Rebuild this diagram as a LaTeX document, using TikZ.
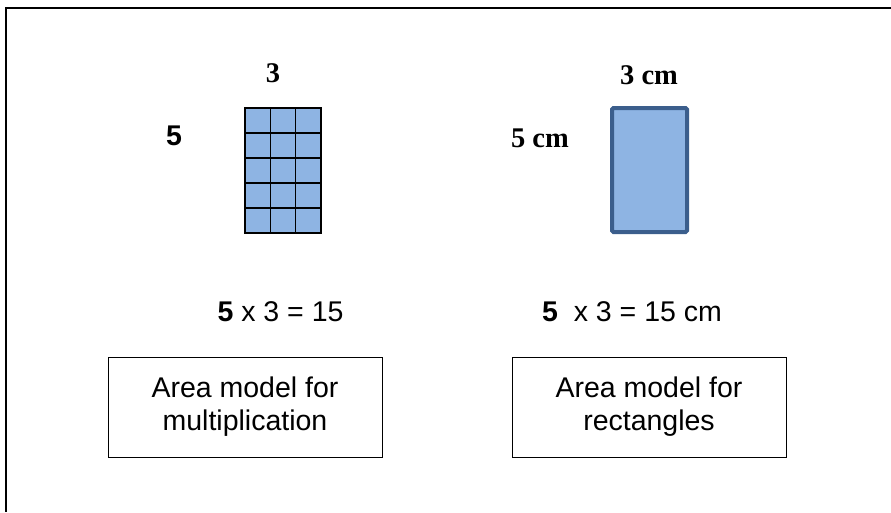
\documentclass[tikz,border=0pt]{standalone}
\usepackage{fontspec}
\setmainfont{Liberation Sans}
\newfontfamily\timesfont{Liberation Serif}
\usetikzlibrary{positioning}
\definecolor{cellBlue}{HTML}{8EB4E3}
\definecolor{rectEdge}{HTML}{3B5E8C}

\begin{document}
\begin{tikzpicture}[x=1pt,y=-1pt,
      lbl/.style={inner sep=0pt,font=\fontsize{28.5}{33}\selectfont},
      sidelbl/.style={inner sep=0pt,font=\fontsize{28.5}{33}\selectfont\timesfont\bfseries},
      capbox/.style={draw,line width=1pt,minimum width=274pt,minimum height=100pt,
                  align=center,inner sep=0pt,font=\fontsize{28.5}{33}\selectfont}]
    \useasboundingbox (0,0) rectangle (891,512);
    % frame (cut off at right and bottom)
    \draw[line width=1.6pt] (891,8) -- (6,8) -- (6,512);

    % area model with unit squares
    \foreach \i in {0,1,2}
      \foreach \j in {0,...,4}
        \draw[fill=cellBlue,line width=1.4pt]
          (245+\i*25.33,108+\j*25) rectangle ++(25.33,25);
    \node[sidelbl] (top3) at (273,73) {3};
    \node[lbl,font=\fontsize{28.5}{33}\selectfont\bfseries] (side5) at (174,136) {5};

    % plain rectangle
    \draw[fill=cellBlue,draw=rectEdge,line width=4pt,rounded corners=1.5pt]
      (612,108) rectangle (687,232);
    \node[sidelbl] (top3cm) at (649,75) {3 cm};
    \node[sidelbl] (side5cm) at (540,138) {5 cm};

    % products
    \node[lbl] (multL) at (280.5,312) {\textbf{5} x 3 = 15};
    \node[lbl] (multR) at (632,312) {\textbf{5}\ \ x 3 = 15 cm};

    % captions
    \node[capbox] (capL) at (245,407) {Area model for\\multiplication};
    \node[capbox] (capR) at (649,407) {Area model for\\rectangles};
  \end{tikzpicture}
\end{document}
